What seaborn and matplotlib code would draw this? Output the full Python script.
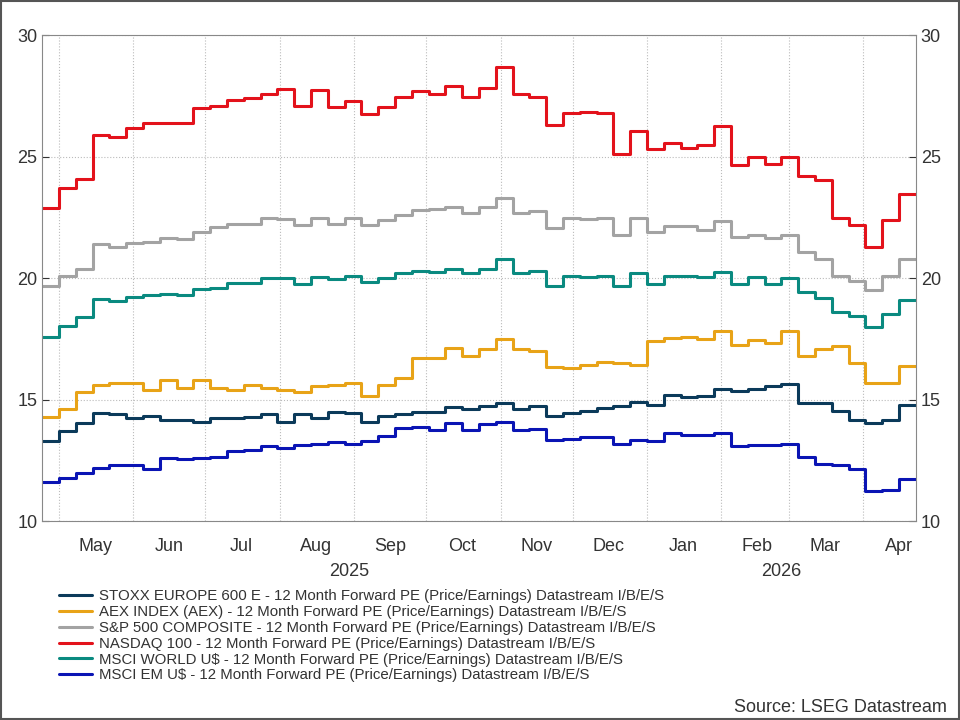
import matplotlib
matplotlib.use('Agg')
import matplotlib.pyplot as plt
import matplotlib.dates as mdates
import matplotlib.transforms as mtrans
import seaborn as sns
import pandas as pd

nasdaq = [22.9, 23.7, 24.1, 25.9, 25.8, 26.2, 26.4, 26.4, 26.4, 27.0,
          27.1, 27.35, 27.4, 27.6, 27.8, 27.1, 27.75, 27.05, 27.3, 26.75,
          27.05, 27.45, 27.7, 27.6, 27.9, 27.45, 27.85, 28.7, 27.6, 27.45,
          26.3, 26.8, 26.85, 26.8, 25.1, 26.05, 25.3, 25.55, 25.35, 25.5,
          26.25, 24.65, 25.0, 24.7, 25.0, 24.2, 24.05, 22.5, 22.2, 21.3,
          22.4, 23.45]
sp500 = [19.7, 20.1, 20.4, 21.4, 21.3, 21.45, 21.5, 21.65, 21.6, 21.9,
         22.1, 22.25, 22.25, 22.5, 22.45, 22.2, 22.5, 22.25, 22.5, 22.2,
         22.4, 22.6, 22.8, 22.85, 22.95, 22.7, 22.95, 23.3, 22.7, 22.75,
         22.05, 22.5, 22.45, 22.5, 21.8, 22.5, 21.9, 22.15, 22.15, 22.0,
         22.35, 21.7, 21.8, 21.65, 21.8, 21.1, 20.8, 20.1, 19.9, 19.5,
         20.1, 20.8]
world = [17.6, 18.05, 18.4, 19.15, 19.05, 19.25, 19.3, 19.35, 19.3, 19.55,
         19.6, 19.8, 19.8, 20.0, 20.0, 19.75, 20.05, 19.95, 20.1, 19.85,
         20.0, 20.2, 20.3, 20.25, 20.4, 20.2, 20.4, 20.8, 20.2, 20.3,
         19.7, 20.1, 20.05, 20.1, 19.7, 20.2, 19.75, 20.1, 20.1, 20.05,
         20.25, 19.75, 20.05, 19.75, 20.0, 19.45, 19.2, 18.6, 18.45, 18.0,
         18.55, 19.1]
aex = [14.3, 14.6, 15.3, 15.6, 15.7, 15.7, 15.4, 15.8, 15.5, 15.8,
       15.5, 15.4, 15.6, 15.5, 15.4, 15.3, 15.55, 15.6, 15.7, 15.15,
       15.6, 15.9, 16.7, 16.7, 17.15, 16.8, 17.1, 17.5, 17.1, 17.0,
       16.35, 16.3, 16.45, 16.55, 16.5, 16.45, 17.4, 17.55, 17.6, 17.5,
       17.85, 17.25, 17.45, 17.35, 17.85, 16.8, 17.1, 17.2, 16.5, 15.7,
       15.7, 16.4]
stoxx = [13.3, 13.7, 14.05, 14.45, 14.4, 14.25, 14.35, 14.15, 14.15, 14.1,
         14.25, 14.25, 14.3, 14.4, 14.1, 14.4, 14.25, 14.5, 14.45, 14.1,
         14.35, 14.4, 14.5, 14.5, 14.7, 14.6, 14.75, 14.85, 14.6, 14.75,
         14.35, 14.45, 14.55, 14.65, 14.75, 14.9, 14.8, 15.2, 15.1, 15.15,
         15.45, 15.35, 15.45, 15.55, 15.65, 14.85, 14.85, 14.55, 14.15, 14.05,
         14.15, 14.8]
em = [11.6, 11.8, 12.0, 12.2, 12.3, 12.3, 12.15, 12.6, 12.55, 12.6,
      12.65, 12.9, 12.95, 13.1, 13.0, 13.15, 13.2, 13.25, 13.2, 13.3,
      13.5, 13.85, 13.9, 13.75, 14.05, 13.75, 14.0, 14.1, 13.75, 13.8,
      13.35, 13.4, 13.45, 13.45, 13.2, 13.35, 13.3, 13.65, 13.55, 13.55,
      13.65, 13.1, 13.15, 13.15, 13.2, 12.65, 12.35, 12.3, 12.15, 11.25,
      11.3, 11.75]

suffix = ' - 12 Month Forward PE (Price/Earnings) Datastream I/B/E/S'
series = [
    ('STOXX EUROPE 600 E', stoxx, '#0b3a5a'),
    ('AEX INDEX (AEX)', aex, '#e8a317'),
    ('S&P 500 COMPOSITE', sp500, '#a3a3a3'),
    ('NASDAQ 100', nasdaq, '#e3121b'),
    ('MSCI WORLD U$', world, '#0a8a80'),
    ('MSCI EM U$', em, '#0a14b4'),
]

# weekly observations, last value repeated so the final step reaches the edge
dates = pd.date_range('2025-04-24', periods=len(nasdaq) + 1, freq='7D')

sns.set_style('white')
plt.rcParams['font.family'] = ['Liberation Sans', 'DejaVu Sans']
fig = plt.figure(figsize=(9.6, 7.2), dpi=100)
ax = fig.add_axes([0.044, 0.276, 0.91, 0.675])

for name, vals, col in series:
    y = vals + [vals[-1]]
    sns.lineplot(x=dates, y=y, ax=ax, color=col, lw=2.2, drawstyle='steps-post',
                 label=name + suffix)

ax.set_xlim(dates[0], dates[-1])
ax.set_ylim(10, 30)
ax.set_yticks([10, 15, 20, 25, 30])
ax.set_xlabel('')
ax.set_ylabel('')

ax.xaxis.set_major_locator(mdates.MonthLocator())
ax.xaxis.set_major_formatter(matplotlib.ticker.NullFormatter())
ax.xaxis.set_minor_locator(mdates.MonthLocator(bymonthday=16))
ax.xaxis.set_minor_formatter(mdates.DateFormatter('%b'))
ax.tick_params(axis='x', which='major', length=6, direction='inout', color='#444444')
ax.tick_params(axis='x', which='minor', length=0, labelsize=13, pad=12, colors='#333333')
ax.tick_params(axis='y', which='major', direction='in', length=5, labelsize=13,
               left=True, right=True, labelright=True, colors='#333333')
ax.grid(True, which='major', ls=':', color='#bbbbbb', lw=0.8)
for s in ax.spines.values():
    s.set_color('#888888')

trans = mtrans.blended_transform_factory(ax.transData, ax.transAxes)
ax.text(pd.Timestamp('2025-08-30'), -0.085, '2025', transform=trans, ha='center',
        va='top', fontsize=13, color='#333333')
ax.text(pd.Timestamp('2026-02-26'), -0.085, '2026', transform=trans, ha='center',
        va='top', fontsize=13, color='#333333')

ax.legend(loc='upper left', bbox_to_anchor=(0.012, -0.128), frameon=False,
          fontsize=10.8, handlelength=2.2, labelspacing=0.12, borderaxespad=0,
          handletextpad=0.5, labelcolor='#333333')

fig.text(0.986, 0.006, 'Source: LSEG Datastream', ha='right', va='bottom',
         fontsize=13, color='#333333')
fig.patches.append(matplotlib.patches.Rectangle((0.001, 0.001), 0.998, 0.998,
                   transform=fig.transFigure, fill=False, ec='#555555', lw=1.5))

fig.savefig('out.png', dpi=100)
